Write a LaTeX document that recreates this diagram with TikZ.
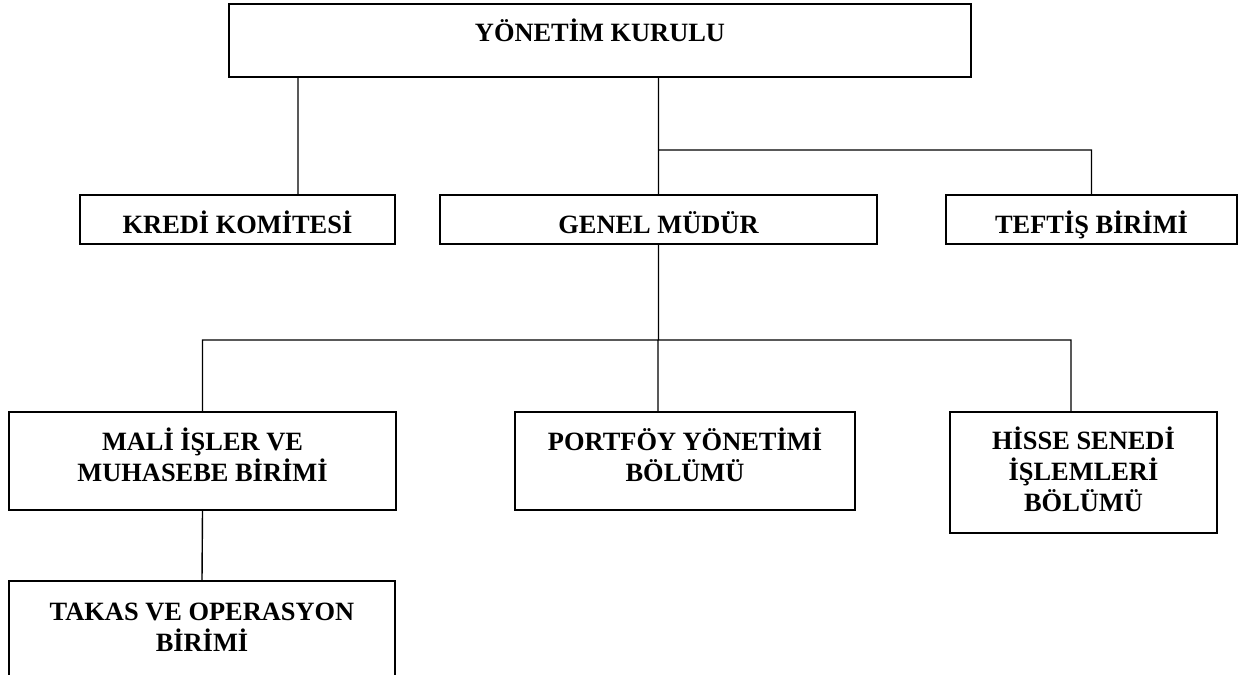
\documentclass[tikz,border=0pt]{standalone}
\usepackage{fontspec}
\setmainfont{Liberation Serif}
\begin{document}
\begin{tikzpicture}[x=0.5pt,y=-0.5pt]
        \tikzset{
        org node/.style={rectangle,draw,line width=1pt,inner sep=0,align=center,font=\fontsize{13.2}{15.5}\selectfont\bfseries},
        org edge/.style={line width=0.7pt}
        }
        \path[use as bounding box,clip] (0,0) rectangle (1244,675);
        \node[org node,minimum width=371pt,minimum height=36.5pt,text height=9pt,text depth=8.5pt] (1) at (600,40.5) {YÖNETİM KURULU};
        \node[org node,minimum width=218.5pt,minimum height=24.5pt,text height=13.5pt,text depth=0pt] (2) at (658.5,219.5) {GENEL MÜDÜR};
        \node[org node,minimum width=157.5pt,minimum height=24.5pt,text height=13.5pt,text depth=0pt] (3) at (237.5,219.5) {KREDİ KOMİTESİ};
        \node[org node,minimum width=145.5pt,minimum height=24.5pt,text height=13.5pt,text depth=0pt] (4) at (1091.5,219.5) {TEFTİŞ BİRİMİ};
        \node[org node,minimum width=193.5pt,minimum height=49pt,text height=20pt,text depth=0pt] (5) at (202.5,461) {MALİ İŞLER VE\\MUHASEBE BİRİMİ};
        \node[org node,minimum width=170pt,minimum height=49pt,text height=20pt,text depth=0pt] (6) at (685,461) {PORTFÖY YÖNETİMİ\\BÖLÜMÜ};
        \node[org node,minimum width=133.5pt,minimum height=60.5pt,text height=39pt,text depth=0pt] (7) at (1083.5,472.5) {HİSSE SENEDİ\\İŞLEMLERİ\\BÖLÜMÜ};
        \node[org node,minimum width=193pt,minimum height=49pt,text height=21pt,text depth=0pt] (8) at (202,630) {TAKAS VE OPERASYON\\BİRİMİ};

        \coordinate (a) at (298,0);
        \coordinate (b) at (0,150);
        \coordinate (c) at (658,340);
        \coordinate (d) at (1071,0);

        \path[draw,org edge]
        (1.south -| a) -- (3.north -| a)
        (1.south -| 2.north) -- (2.north)
        (2.north |- b) -| (4.north)
        (2.south) -- (2.south |- c)
        (5.north) |- (c) -| (7.north -| d)
        (c) -- (6.north -| c)
        (5.south) -- (8.north)
        ;
\end{tikzpicture}
\end{document}
